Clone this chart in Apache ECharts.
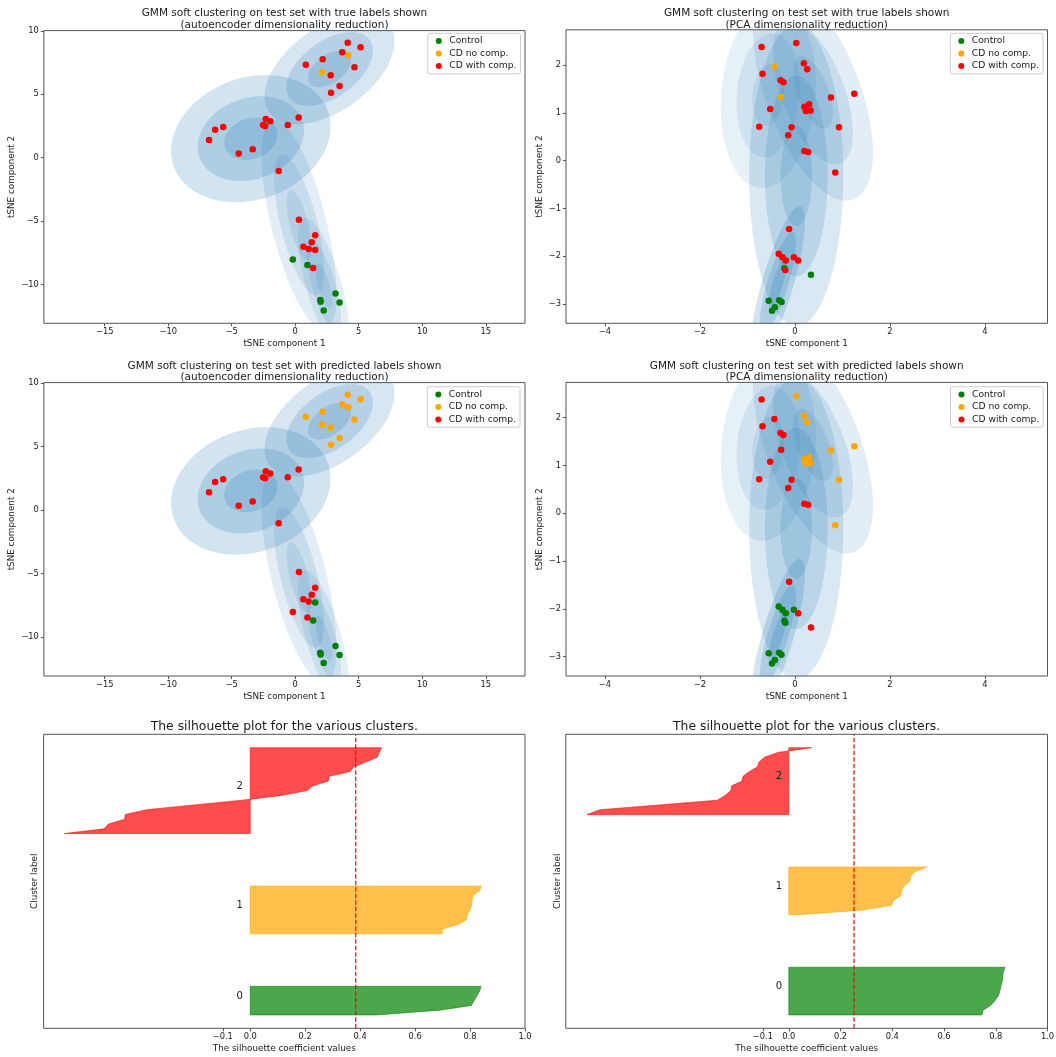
<!DOCTYPE html>
<html>
<head>
<meta charset="utf-8">
<script src="https://cdn.jsdelivr.net/npm/echarts@6.0.0/dist/echarts.min.js"></script>
<style>
html,body{margin:0;padding:0;background:#ffffff;}
#chart{width:1056px;height:1057px;}
</style>
</head>
<body>
<div id="chart"></div>
<script>
// ---------------- data ----------------
const classNames = ['Control', 'CD no comp.', 'CD with comp.'];
const classColors = ['#008000', '#ffa500', '#ff0000'];

// autoencoder -> tSNE embedding of the test set
const aeX = [4.13, 5.14, 3.70, 2.16, 0.83, 4.66, 2.79, 3.49, 2.82, 0.27, -2.32, -1.97, -2.53, -2.37, -0.59, -5.67, -6.31, -6.79, -3.35, -4.45, -1.30, 0.29, 1.57, 1.30, 0.64, 1.06, 1.57, 1.41, 4.18, 2.10, -0.19, 0.96, 3.17, 1.97, 2.00, 3.49, 2.24];
const aeY = [9.08, 8.71, 8.32, 7.76, 7.34, 7.13, 6.50, 5.66, 5.13, 3.18, 3.05, 2.87, 2.58, 2.50, 2.58, 2.42, 2.21, 1.39, 0.66, 0.34, -1.05, -4.89, -6.13, -6.68, -7.03, -7.21, -7.29, -8.71, 8.11, 6.74, -8.03, -8.47, -10.71, -11.24, -11.37, -11.42, -12.05];
const aeTrue = [2,2,2,2,2,2,2,2,2, 2,2,2,2,2,2,2,2,2,2,2,2, 2,2,2,2,2,2,2, 1,1, 0,0,0,0,0,0,0];
const aePred = [1,1,1,1,1,1,1,1,1, 2,2,2,2,2,2,2,2,2,2,2,2, 2,2,2,2,2,0,0, 1,1, 2,2,0,0,0,0,0];

// PCA -> tSNE embedding of the test set
const pcaX = [-0.70, 0.03, -0.68, 0.19, 0.26, -0.30, -0.24, 0.76, 1.25, 0.30, 0.20, 0.33, 0.23, -0.52, -0.75, -0.07, 0.93, -0.14, 0.20, 0.28, 0.85, -0.12, -0.34, -0.26, -0.19, -0.02, 0.07, -0.20, -0.43, -0.29, -0.22, 0.34, -0.55, -0.33, -0.28, -0.42, -0.48];
const pcaY = [2.38, 2.46, 1.82, 2.04, 1.91, 1.68, 1.64, 1.32, 1.40, 1.18, 1.13, 1.05, 1.04, 1.08, 0.71, 0.70, 0.70, 0.53, 0.20, 0.18, -0.25, -1.43, -1.95, -2.02, -2.09, -2.02, -2.09, -2.29, 1.97, 1.33, -2.25, -2.39, -2.93, -2.92, -2.96, -3.07, -3.14];
const pcaTrue = [2,2,2,2,2,2,2,2,2,2,2,2,2,2,2,2,2,2,2,2,2,2,2,2,2,2,2,2, 1,1, 0,0,0,0,0,0,0];
const pcaPred = [2,1,2,1,1,2,2,1,1,1,1,1,1,2,2,2,1,2,2,2,1,2,0,0,0,0,2,0,2,2,0,2,0,0,0,0,0];

// GMM components (centre, 1-sigma semi axes, angle in degrees, alpha)
const aeGmmCx = [2.7, -3.5, 0.3, 2.25];
const aeGmmCy = [7.0, 1.5, -5.3, -10.1];
const aeGmmA = [1.95, 2.15, 2.85, 1.85];
const aeGmmB = [1.1, 1.6, 0.72, 0.46];
const aeGmmAngle = [36, 20, 104, 106];
const aeGmmAlpha = [0.18, 0.2, 0.13, 0.12];

const pcaGmmCx = [0.03, -0.56, 0.38, -0.36];
const pcaGmmCy = [-0.32, 1.37, 1.43, -2.57];
const pcaGmmA = [1.05, 0.65, 0.80, 0.56];
const pcaGmmB = [0.33, 0.33, 0.33, 0.11];
const pcaGmmAngle = [90, 85, -69, 73.5];
const pcaGmmAlpha = [0.17, 0.11, 0.13, 0.20];

// silhouette values per cluster (sorted ascending)
const silAe0 = [0.46, 0.69, 0.805, 0.815, 0.825, 0.835, 0.84];
const silAe1 = [0.698, 0.70, 0.76, 0.787, 0.79, 0.80, 0.805, 0.808, 0.81, 0.835, 0.84];
const silAe2 = [-0.677, -0.532, -0.516, -0.457, -0.455, -0.377, -0.204, -0.028, 0.112, 0.207, 0.228, 0.284, 0.287, 0.364, 0.376, 0.421, 0.462, 0.470, 0.477];
const silAeAvg = 0.384;
const silPca0 = [0.746, 0.751, 0.78, 0.797, 0.81, 0.816, 0.82, 0.825, 0.827, 0.829, 0.836];
const silPca1 = [0.04, 0.29, 0.398, 0.405, 0.433, 0.436, 0.445, 0.468, 0.47, 0.487, 0.534];
const silPca2 = [-0.78, -0.73, -0.50, -0.276, -0.246, -0.224, -0.221, -0.181, -0.177, -0.152, -0.121, -0.115, -0.094, -0.042, 0.088];
const silPcaAvg = 0.252;
const silColors = ['#008000', '#ffa500', '#ff0000'];

// ticks and axis limits
const aeXTicks = [-15, -10, -5, 0, 5, 10, 15];
const aeYTicks = [-10, -5, 0, 5, 10];
const pcaXTicks = [-4, -2, 0, 2, 4];
const pcaYTicks = [-3, -2, -1, 0, 1, 2];
const silXTicks = [-0.1, 0, 0.2, 0.4, 0.6, 0.8, 1.0];
const aeXRange = [-19.79, 18.09];
const aeYRange = [-13.07, 10.03];
const pcaXRange = [-4.817, 5.318];
const pcaYRange = [-3.404, 2.738];
const silAeXRange = [-0.752, 1.0];
const silPcaXRange = [-0.862, 1.0];
const silYRange = [7.2, 68.8];
const silGap = 10, silStart = 10, silLabelX = -0.05;

const titles = [
  'GMM soft clustering on test set with true labels shown\n(autoencoder dimensionality reduction)',
  'GMM soft clustering on test set with true labels shown\n(PCA dimensionality reduction)',
  'GMM soft clustering on test set with predicted labels shown\n(autoencoder dimensionality reduction)',
  'GMM soft clustering on test set with predicted labels shown\n(PCA dimensionality reduction)',
  'The silhouette plot for the various clusters.',
  'The silhouette plot for the various clusters.'
];

// ---------------- chart ----------------
const FONT = 'DejaVu Sans';
const TXT = '#1a1a1a';
const SPINE = '#555555';
const fmtInt = v => (v < 0 ? '\u2212' : '') + Math.abs(v);
const fmt1 = v => (v < 0 ? '\u2212' : '') + Math.abs(v).toFixed(1);

const grids = [
  {left: 43.9, top: 30.6, width: 481.1, height: 292.7},
  {left: 566, top: 29.8, width: 481.5, height: 293.5},
  {left: 43.9, top: 382.6, width: 481.1, height: 293.4},
  {left: 566, top: 382.4, width: 481.5, height: 293.6},
  {left: 43.6, top: 734.3, width: 481.4, height: 294},
  {left: 565.8, top: 734.3, width: 481.7, height: 294}
].map(g => Object.assign({show: true, borderColor: SPINE, borderWidth: 1, backgroundColor: 'transparent', containLabel: false, outerBoundsMode: 'none'}, g));

function valueAxis(gi, range, ticks, fmt, name, nameGap) {
  return {
    type: 'value', gridIndex: gi, min: range[0], max: range[1],
    name: name, nameLocation: 'middle', nameGap: nameGap,
    nameTextStyle: {fontFamily: FONT, fontSize: 8.8, color: TXT},
    axisLine: {show: false, onZero: false},
    splitLine: {show: false},
    axisTick: ticks ? {show: true, length: 3, lineStyle: {color: SPINE, width: 1}, customValues: ticks} : {show: false},
    axisLabel: ticks ? {show: true, customValues: ticks, formatter: fmt, fontFamily: FONT, fontSize: 8.3, color: TXT, margin: 5} : {show: false}
  };
}

const xAxis = [
  valueAxis(0, aeXRange, aeXTicks, fmtInt, 'tSNE component 1', 16.3),
  valueAxis(1, pcaXRange, pcaXTicks, fmtInt, 'tSNE component 1', 16.3),
  valueAxis(2, aeXRange, aeXTicks, fmtInt, 'tSNE component 1', 16.3),
  valueAxis(3, pcaXRange, pcaXTicks, fmtInt, 'tSNE component 1', 16.3),
  valueAxis(4, silAeXRange, silXTicks, fmt1, 'The silhouette coefficient values', 16),
  valueAxis(5, silPcaXRange, silXTicks, fmt1, 'The silhouette coefficient values', 16)
];
const yAxis = [
  valueAxis(0, aeYRange, aeYTicks, fmtInt, 'tSNE component 2', 27.2),
  valueAxis(1, pcaYRange, pcaYTicks, fmtInt, 'tSNE component 2', 21.3),
  valueAxis(2, aeYRange, aeYTicks, fmtInt, 'tSNE component 2', 27.2),
  valueAxis(3, pcaYRange, pcaYTicks, fmtInt, 'tSNE component 2', 21.3),
  valueAxis(4, silYRange, null, null, 'Cluster label', 4.2),
  valueAxis(5, silYRange, null, null, 'Cluster label', 3.6)
];

function ellipseSeries(gi, cx, cy, a, b, ang, alpha) {
  const data = [];
  for (let i = 0; i < cx.length; i++) for (let k = 1; k <= 3; k++) data.push([i, k]);
  return {
    type: 'custom', xAxisIndex: gi, yAxisIndex: gi, clip: true, silent: true, z: 1,
    data: data,
    renderItem: function (params, api) {
      const i = api.value(0), k = api.value(1);
      const th = ang[i] * Math.PI / 180;
      const pts = [];
      const N = 144;
      for (let s = 0; s < N; s++) {
        const t = s / N * 2 * Math.PI;
        const u = k * a[i] * Math.cos(t), v = k * b[i] * Math.sin(t);
        pts.push(api.coord([cx[i] + u * Math.cos(th) - v * Math.sin(th), cy[i] + u * Math.sin(th) + v * Math.cos(th)]));
      }
      return {type: 'polygon', shape: {points: pts}, style: {fill: 'rgba(31,119,180,' + alpha[i] + ')', stroke: null}};
    }
  };
}

function scatterSeries(gi, xs, ys, labels) {
  return classNames.map((nm, c) => ({
    type: 'scatter', name: nm, xAxisIndex: gi, yAxisIndex: gi, symbol: 'circle', symbolSize: 6.5, z: 5, silent: true,
    itemStyle: {color: classColors[c], opacity: 1},
    data: xs.map((x, i) => [x, ys[i], labels[i]]).filter(d => d[2] === c).map(d => [d[0], d[1]])
  }));
}

function silLowers(clusters) {
  const low = [];
  let y = silStart;
  clusters.forEach(c => { low.push(y); y += c.length + silGap; });
  return low;
}

function silSeries(gi, clusters) {
  const lowers = silLowers(clusters);
  return [{
    type: 'custom', xAxisIndex: gi, yAxisIndex: gi, clip: true, silent: true, z: 3,
    data: clusters.map((c, i) => [i, 0]),
    renderItem: function (params, api) {
      const i = api.value(0);
      const vals = clusters[i], y0 = lowers[i];
      const pts = [api.coord([0, y0])];
      vals.forEach((v, j) => pts.push(api.coord([v, y0 + j])));
      pts.push(api.coord([0, y0 + vals.length - 1]));
      return {type: 'polygon', shape: {points: pts}, style: {fill: silColors[i], stroke: silColors[i], lineWidth: 0.8, opacity: 0.7}};
    }
  }, {
    type: 'custom', xAxisIndex: gi, yAxisIndex: gi, silent: true, z: 6,
    data: clusters.map((c, i) => [i, 0]),
    renderItem: function (params, api) {
      const i = api.value(0);
      const p = api.coord([silLabelX, lowers[i] + 0.5 * clusters[i].length]);
      return {type: 'text', x: p[0], y: p[1] - 1.8, style: {text: String(i), fill: TXT, font: '10px "DejaVu Sans"', align: 'left', verticalAlign: 'middle'}};
    }
  }];
}

function avgLine(gi, avg) {
  return {
    type: 'line', xAxisIndex: gi, yAxisIndex: gi, silent: true, z: 7, symbol: 'none',
    data: [[avg, silYRange[0]], [avg, silYRange[1]]],
    lineStyle: {color: '#ff0000', width: 1.2, type: [4.5, 2]}
  };
}

const series = [].concat(
  ellipseSeries(0, aeGmmCx, aeGmmCy, aeGmmA, aeGmmB, aeGmmAngle, aeGmmAlpha),
  scatterSeries(0, aeX, aeY, aeTrue),
  ellipseSeries(1, pcaGmmCx, pcaGmmCy, pcaGmmA, pcaGmmB, pcaGmmAngle, pcaGmmAlpha),
  scatterSeries(1, pcaX, pcaY, pcaTrue),
  ellipseSeries(2, aeGmmCx, aeGmmCy, aeGmmA, aeGmmB, aeGmmAngle, aeGmmAlpha),
  scatterSeries(2, aeX, aeY, aePred),
  ellipseSeries(3, pcaGmmCx, pcaGmmCy, pcaGmmA, pcaGmmB, pcaGmmAngle, pcaGmmAlpha),
  scatterSeries(3, pcaX, pcaY, pcaPred),
  silSeries(4, [silAe0, silAe1, silAe2]),
  avgLine(4, silAeAvg),
  silSeries(5, [silPca0, silPca1, silPca2]),
  avgLine(5, silPcaAvg)
);

function titleAt(i, cx, top, size, lh) {
  return {
    text: titles[i], left: cx, top: top, textAlign: 'center', padding: 0,
    textStyle: {fontFamily: FONT, fontSize: size, fontWeight: 'normal', color: TXT, lineHeight: lh}
  };
}

function legendAt(right, top) {
  return {
    data: classNames, orient: 'vertical', right: right, top: top, icon: 'circle',
    itemWidth: 11, itemHeight: 6, itemGap: 0, padding: [1.5, 4, 1.5, 8], selectedMode: false,
    backgroundColor: 'rgba(255,255,255,0.8)', borderColor: '#cccccc', borderWidth: 1, borderRadius: 2,
    textStyle: {fontFamily: FONT, fontSize: 9.2, color: TXT, lineHeight: 12.5}
  };
}

const chart = echarts.init(document.getElementById('chart'), null, {renderer: 'canvas'});
chart.setOption({
  animation: false,
  backgroundColor: '#ffffff',
  tooltip: {show: false},
  title: [
    titleAt(0, 284.5, 7.3, 10.5, 11.7),
    titleAt(1, 806.7, 7.3, 10.5, 11.7),
    titleAt(2, 284.5, 360, 10.5, 11.7),
    titleAt(3, 806.7, 360, 10.5, 11.7),
    titleAt(4, 284.3, 720.2, 12.4, 14),
    titleAt(5, 806.6, 720.2, 12.4, 14)
  ],
  legend: [legendAt(535.5, 33.3), legendAt(13, 33.3), legendAt(536, 386.7), legendAt(12.8, 386.7)],
  grid: grids,
  xAxis: xAxis,
  yAxis: yAxis,
  series: series
});
</script>
</body>
</html>
